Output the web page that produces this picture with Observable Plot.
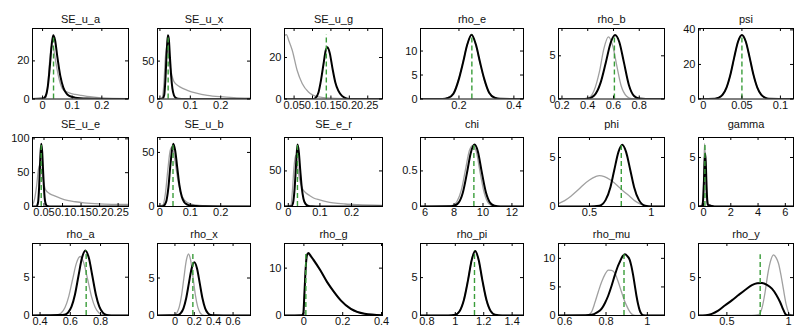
<!DOCTYPE html>
<html><head><meta charset="utf-8">
<script src="https://cdn.jsdelivr.net/npm/d3@7"></script>
<script src="https://cdn.jsdelivr.net/npm/@observablehq/plot@0.6"></script>
<style>
body{margin:0;background:#fff;}
#chart{position:relative;width:795px;height:331px;overflow:hidden;background:#fff;}
#chart svg{position:absolute;overflow:visible;}
</style></head><body><div id="chart"></div>
<script>
// ---------- data ----------
const titles = ["SE_u_a","SE_u_x","SE_u_g","rho_e","rho_b","psi",
                "SE_u_e","SE_u_b","SE_e_r","chi","phi","gamma",
                "rho_a","rho_x","rho_g","rho_pi","rho_mu","rho_y"];
const xDomains = [[-0.034,0.29],[-0.008,0.298],[0.024,0.29],[0.06,0.435],[0.173,0.996],[-0.0064,0.117],
                  [0.019,0.278],[-0.008,0.298],[-0.012,0.298],[5.68,12.8],[0.25,1.106],[-0.37,6.6],
                  [0.35,0.985],[-0.18,0.78],[-0.1,0.405],[0.755,1.48],[0.57,1.083],[0.27,1.04]];
const yMax = [37,93,34,14.7,8.16,40.8, 102,63.8,97,0.97,7.04,7.04, 9.4,9.6,15.2,9.5,12.6,9.5];
const xTicks = [[0,0.1,0.2],[0,0.1,0.2],[0.05,0.1,0.15,0.2,0.25],[0.2,0.4],[0.2,0.4,0.6,0.8],[0,0.05,0.1],
                [0.05,0.1,0.15,0.2,0.25],[0,0.1,0.2],[0,0.1,0.2],[6,8,10,12],[0.5,1],[0,2,4,6],
                [0.4,0.6,0.8],[0,0.2,0.4,0.6],[0,0.2,0.4],[0.8,1,1.2,1.4],[0.6,0.8,1],[0.5,1]];
const yTicks = [[0,20],[0,50],[0,20],[0,5,10],[0,5],[0,20,40],
                [0,50,100],[0,50],[0,50],[0,0.5],[0,5],[0,5],
                [0,5],[0,5],[0,10],[0,5],[0,5,10],[0,5]];
const modes = [0.037,0.027,0.1375,0.247,0.607,0.05, 0.0425,0.043,0.029,9.37,0.757,0.1, 0.705,0.185,0.01,1.135,0.887,0.77];

// prior densities (grey) and posterior densities (black): [x, density]
const prior_SE_u_a = [[-0.034,0],[0,0],[0.01,0.5],[0.017,6],[0.024,20],[0.03,28],[0.036,27],[0.045,19],[0.055,11],[0.07,4.8],[0.09,3.2],[0.11,2.4],[0.13,1.9],[0.16,1.2],[0.2,0.6],[0.29,0.2]];
const post_SE_u_a = [[-0.034,0],[0,0.2],[0.01,1.5],[0.018,7],[0.025,18],[0.031,29],[0.036,33.5],[0.042,31],[0.05,22],[0.06,12],[0.07,6],[0.08,3],[0.09,1.6],[0.11,0.7],[0.15,0.2],[0.2,0.05],[0.29,0]];
const prior_SE_u_x = [[-0.008,0],[0,0],[0.008,2],[0.013,20],[0.018,55],[0.023,70],[0.028,60],[0.035,40],[0.046,23],[0.06,17.5],[0.075,14],[0.09,11.5],[0.12,7.8],[0.156,4.9],[0.2,3],[0.243,1.9],[0.298,1.2]];
const post_SE_u_x = [[-0.008,0],[0.008,0.5],[0.014,5],[0.018,25],[0.022,60],[0.026,84],[0.029,80],[0.033,55],[0.037,30],[0.041,14],[0.046,5],[0.052,1.5],[0.06,0.4],[0.08,0],[0.298,0]];
const prior_SE_u_g = [[0.024,30.5],[0.029,31],[0.036,28],[0.045,23.5],[0.058,14],[0.072,7.5],[0.089,3.4],[0.1,2],[0.116,1],[0.15,0.4],[0.2,0.15],[0.29,0.05]];
const post_SE_u_g = [[0.024,0],[0.1,0],[0.108,0.5],[0.116,3],[0.123,9],[0.13,17],[0.136,23.5],[0.141,25],[0.147,22],[0.154,15],[0.162,8],[0.17,4],[0.18,1.5],[0.19,0.4],[0.2,0.05],[0.29,0]];
const prior_rho_e = [[0.06,0],[0.14,0.02],[0.16,0.3],[0.18,1.3],[0.2,4.4],[0.215,7.8],[0.23,11.3],[0.245,13.3],[0.26,11.5],[0.275,7.9],[0.29,4.4],[0.31,1.3],[0.33,0.3],[0.35,0.04],[0.435,0]];
const post_rho_e = [[0.06,0],[0.14,0.01],[0.16,0.2],[0.18,1.1],[0.2,4.2],[0.215,7.6],[0.23,11.3],[0.246,13.4],[0.262,11.3],[0.277,7.6],[0.292,4.2],[0.31,1.3],[0.33,0.25],[0.35,0.03],[0.435,0]];
const prior_rho_b = [[0.173,0],[0.36,0],[0.41,0.15],[0.45,1],[0.49,3.1],[0.525,5.8],[0.56,7.2],[0.595,6.1],[0.625,3.9],[0.66,1.5],[0.7,0.35],[0.74,0.04],[0.78,0],[0.996,0]];
const post_rho_b = [[0.173,0],[0.35,0],[0.4,0.03],[0.45,0.4],[0.5,1.9],[0.54,4.2],[0.58,6.6],[0.612,7.4],[0.645,6.6],[0.68,4.3],[0.72,1.6],[0.76,0.35],[0.8,0.05],[0.85,0],[0.996,0]];
const prior_psi = [[-0.0064,0],[0.015,0.2],[0.02,0.8],[0.025,2.5],[0.03,6.6],[0.035,14],[0.04,24],[0.045,33.2],[0.05,37],[0.055,33.2],[0.06,24],[0.065,14],[0.07,6.6],[0.075,2.5],[0.08,0.8],[0.085,0.2],[0.117,0]];
const post_psi = [[-0.0064,0],[0.015,0.19],[0.02,0.76],[0.025,2.5],[0.03,6.6],[0.035,14],[0.04,24.1],[0.045,33.3],[0.05,37.1],[0.055,33.3],[0.06,24.1],[0.065,14],[0.07,6.6],[0.075,2.5],[0.08,0.76],[0.085,0.19],[0.117,0]];
const prior_SE_u_e = [[0.019,2],[0.025,12],[0.03,30],[0.035,55],[0.039,62],[0.044,50],[0.05,33],[0.054,25],[0.065,19],[0.077,16],[0.095,12],[0.113,9],[0.135,7],[0.158,5.5],[0.2,4],[0.278,3]];
const post_SE_u_e = [[0.019,0],[0.03,0.3],[0.034,6],[0.037,30],[0.04,72],[0.0425,92.7],[0.045,82],[0.048,48],[0.051,18],[0.054,5],[0.058,0.8],[0.065,0],[0.278,0]];
const prior_SE_u_b = [[-0.008,0],[0.01,1.5],[0.018,12],[0.026,34],[0.034,52],[0.04,55],[0.048,45],[0.057,28],[0.067,14],[0.08,6],[0.1,2.5],[0.13,1],[0.18,0.4],[0.298,0.1]];
const post_SE_u_b = [[-0.008,0],[0.01,0.3],[0.02,4],[0.028,18],[0.035,40],[0.0437,58],[0.05,52],[0.057,36],[0.064,20],[0.072,9],[0.08,4],[0.09,1.8],[0.1,0.9],[0.12,0.4],[0.15,0.15],[0.2,0],[0.298,0]];
const prior_SE_e_r = [[-0.012,0],[0.008,2],[0.013,22],[0.018,55],[0.023,72],[0.028,62],[0.035,40],[0.045,25],[0.056,19],[0.067,15.5],[0.08,12],[0.099,9.4],[0.12,7],[0.142,5.2],[0.18,3.5],[0.22,2.5],[0.298,1.5]];
const post_SE_e_r = [[-0.012,0],[0.01,0.5],[0.015,5],[0.02,25],[0.025,62],[0.029,87],[0.033,78],[0.038,50],[0.043,25],[0.048,11],[0.054,4],[0.062,1.2],[0.075,0.3],[0.1,0],[0.298,0]];
const prior_chi = [[5.68,0],[7.5,0.004],[7.9,0.015],[8.2,0.07],[8.5,0.23],[8.8,0.53],[9.05,0.78],[9.3,0.86],[9.55,0.76],[9.8,0.48],[10.1,0.18],[10.4,0.04],[10.7,0.007],[11.1,0],[12.8,0]];
const post_chi = [[5.68,0],[7.6,0.003],[8.0,0.011],[8.3,0.05],[8.6,0.19],[8.9,0.48],[9.15,0.75],[9.42,0.87],[9.65,0.77],[9.9,0.5],[10.2,0.2],[10.5,0.05],[10.8,0.01],[11.2,0.001],[12.8,0]];
const prior_phi = [[0.25,0.3],[0.3,0.6],[0.35,1.05],[0.4,1.6],[0.45,2.2],[0.5,2.7],[0.55,3.05],[0.58,3.15],[0.62,3.05],[0.67,2.7],[0.72,2.2],[0.77,1.6],[0.82,1.1],[0.87,0.55],[0.92,0.2],[0.96,0.03],[1.0,0],[1.106,0]];
const post_phi = [[0.25,0],[0.5,0.01],[0.58,0.08],[0.63,0.65],[0.67,2],[0.7,3.7],[0.735,5.6],[0.765,6.3],[0.795,5.6],[0.83,3.7],[0.86,2],[0.9,0.65],[0.95,0.08],[1.0,0.01],[1.106,0]];
const prior_gamma = [[-0.37,0],[-0.12,0.05],[-0.06,0.5],[0,2.2],[0.04,4.8],[0.08,6.4],[0.12,5],[0.17,2.3],[0.23,0.5],[0.3,0.05],[0.5,0],[6.6,0]];
const post_gamma = [[-0.37,0],[-0.1,0.07],[-0.03,0.7],[0.03,2.6],[0.08,4.6],[0.12,5.4],[0.16,4.6],[0.21,2.6],[0.27,0.7],[0.34,0.15],[0.45,0.12],[0.6,0.05],[0.8,0],[6.6,0]];
const prior_rho_a = [[0.35,0],[0.5,0.03],[0.515,0.1],[0.54,0.33],[0.565,1.04],[0.59,2.5],[0.615,4.7],[0.64,6.8],[0.665,7.7],[0.69,6.8],[0.715,4.7],[0.74,2.5],[0.765,1.04],[0.79,0.33],[0.815,0.08],[0.85,0.01],[0.985,0]];
const post_rho_a = [[0.35,0],[0.45,0.03],[0.52,0.06],[0.56,0.1],[0.585,0.38],[0.608,1.15],[0.631,2.75],[0.654,5.15],[0.677,7.5],[0.7,8.5],[0.723,7.5],[0.746,5.15],[0.769,2.75],[0.792,1.15],[0.815,0.37],[0.84,0.08],[0.87,0.01],[0.985,0]];
const prior_rho_x = [[-0.18,0],[-0.03,0.01],[-0.004,0.09],[0.02,0.36],[0.044,1.11],[0.068,2.66],[0.092,4.97],[0.116,7.24],[0.14,8.2],[0.164,7.24],[0.188,4.97],[0.212,2.66],[0.236,1.11],[0.26,0.36],[0.284,0.09],[0.32,0.01],[0.78,0]];
const post_rho_x = [[-0.18,0],[-0.05,0.02],[0.032,0.08],[0.06,0.31],[0.088,0.96],[0.116,2.3],[0.144,4.31],[0.172,6.27],[0.2,7.1],[0.228,6.27],[0.256,4.31],[0.284,2.3],[0.312,0.96],[0.34,0.31],[0.368,0.08],[0.42,0.02],[0.5,0.005],[0.78,0]];
const prior_rho_g = [[-0.1,0],[-0.005,0.05],[0,1],[0.005,7],[0.012,11.5],[0.02,13],[0.035,12.4],[0.055,11.2],[0.085,9.4],[0.12,7],[0.155,4.9],[0.19,3.1],[0.24,1.4],[0.31,0.35],[0.405,0.05]];
const post_rho_g = [[-0.1,0],[-0.01,0.05],[-0.003,0.5],[0.003,5],[0.01,10.5],[0.016,12.8],[0.023,13.2],[0.035,12.6],[0.049,11.8],[0.084,9.6],[0.119,7.1],[0.155,5],[0.19,3.2],[0.242,1.4],[0.313,0.36],[0.405,0.05]];
const prior_rho_pi = [[0.755,0],[0.95,0.003],[1.0,0.12],[1.03,0.6],[1.06,2.1],[1.09,4.8],[1.115,7.3],[1.14,8.4],[1.165,7.2],[1.19,4.6],[1.22,1.9],[1.25,0.5],[1.28,0.09],[1.33,0.002],[1.48,0]];
const post_rho_pi = [[0.755,0],[0.95,0.002],[1.0,0.1],[1.03,0.55],[1.06,2],[1.09,4.7],[1.115,7.3],[1.14,8.5],[1.165,7.3],[1.19,4.7],[1.22,2],[1.25,0.55],[1.28,0.1],[1.33,0.002],[1.48,0]];
const prior_rho_mu = [[0.57,0],[0.7,0],[0.715,0.1],[0.731,0.7],[0.747,2.35],[0.763,4.2],[0.779,5.9],[0.795,7.2],[0.811,7.95],[0.827,7.9],[0.843,7.4],[0.859,5.9],[0.875,4.1],[0.887,2.8],[0.899,1.77],[0.911,0.9],[0.923,0.3],[0.935,0.05],[0.95,0],[1.083,0]];
const post_rho_mu = [[0.57,0],[0.7,0.03],[0.731,0.12],[0.755,0.5],[0.779,1.2],[0.795,2.2],[0.811,3.5],[0.827,5.2],[0.843,7.1],[0.855,8.4],[0.867,9.4],[0.879,10.3],[0.891,10.7],[0.903,10.4],[0.915,9.7],[0.923,8.6],[0.931,7.1],[0.939,5.3],[0.947,3.5],[0.955,2],[0.963,0.9],[0.971,0.3],[0.98,0.05],[1.0,0],[1.083,0]];
const prior_rho_y = [[0.27,0],[0.7,0],[0.756,0.1],[0.785,1],[0.81,3.1],[0.83,5.3],[0.851,7],[0.878,8],[0.9,7.6],[0.918,6.9],[0.94,5.2],[0.959,3.4],[0.98,1.5],[1.0,0.4],[1.02,0.05],[1.04,0]];
const post_rho_y = [[0.27,0],[0.33,0.05],[0.378,0.22],[0.43,0.65],[0.486,1.35],[0.54,2],[0.594,2.7],[0.65,3.4],[0.703,4],[0.745,4.25],[0.784,4.3],[0.825,4.05],[0.865,3.55],[0.9,2.75],[0.932,1.75],[0.955,0.85],[0.972,0.25],[0.99,0.03],[1.04,0]];

const priors = [prior_SE_u_a,prior_SE_u_x,prior_SE_u_g,prior_rho_e,prior_rho_b,prior_psi,
                prior_SE_u_e,prior_SE_u_b,prior_SE_e_r,prior_chi,prior_phi,prior_gamma,
                prior_rho_a,prior_rho_x,prior_rho_g,prior_rho_pi,prior_rho_mu,prior_rho_y];
const posts = [post_SE_u_a,post_SE_u_x,post_SE_u_g,post_rho_e,post_rho_b,post_psi,
               post_SE_u_e,post_SE_u_b,post_SE_e_r,post_chi,post_phi,post_gamma,
               post_rho_a,post_rho_x,post_rho_g,post_rho_pi,post_rho_mu,post_rho_y];

// ---------- layout ----------
const colL = [32,157,284,420,558,698], colR = [128,250,382,523,664,793];
const rowT = [28,137,243], rowB = [98.5,206,315], titleY = [15,120,230];
const mL = 30, mR = 6, mT = 24, mB = 18;
const font = "'Liberation Sans', Arial, Helvetica, sans-serif";
const fmt = d => String(d);
const chart = document.getElementById("chart");

titles.forEach((name, i) => {
  const r = Math.floor(i / 6), c = i % 6;
  const fw = colR[c] - colL[c], fh = rowB[r] - rowT[r];
  const prior = priors[i].map(([x, y]) => ({x, y}));
  const post = posts[i].map(([x, y]) => ({x, y}));
  const top = d3.max([...prior, ...post], d => d.y);
  const svg = Plot.plot({
    width: fw + mL + mR, height: fh + mT + mB,
    marginLeft: mL, marginRight: mR, marginTop: mT, marginBottom: mB,
    style: {fontFamily: font, fontSize: "11px", color: "#111", background: "transparent", overflow: "visible"},
    x: {domain: xDomains[i]},
    y: {domain: [0, yMax[i]]},
    marks: [
      Plot.line(prior, {x: "x", y: "y", stroke: "#a0a0a0", strokeWidth: 1.3, curve: "monotone-x", clip: true}),
      Plot.line(post, {x: "x", y: "y", stroke: "#000", strokeWidth: 2, curve: "monotone-x", clip: true}),
      Plot.ruleX([modes[i]], {y1: 0, y2: top, stroke: "#3a9d3a", strokeWidth: 1.4, strokeDasharray: "5,3"}),
      Plot.ruleX(xTicks[i], {insetTop: fh - 3, stroke: "#000"}),
      Plot.ruleX(xTicks[i], {insetBottom: fh - 3, stroke: "#000"}),
      Plot.ruleY(yTicks[i], {insetRight: fw - 3, stroke: "#000"}),
      Plot.ruleY(yTicks[i], {insetLeft: fw - 3, stroke: "#000"}),
      Plot.frame({stroke: "#000", strokeWidth: 1}),
      Plot.axisX({ticks: xTicks[i], tickSize: 0, tickPadding: 2, tickFormat: fmt, label: null, fontSize: 11}),
      Plot.axisY({ticks: yTicks[i], tickSize: 0, tickPadding: 3, tickFormat: fmt, label: null, fontSize: 11}),
      Plot.text([name], {frameAnchor: "top", dy: titleY[r] - rowT[r], fontSize: 11, fill: "#111"})
    ]
  });
  svg.style.left = (colL[c] - mL) + "px";
  svg.style.top = (rowT[r] - mT) + "px";
  chart.append(svg);
});
</script></body></html>
